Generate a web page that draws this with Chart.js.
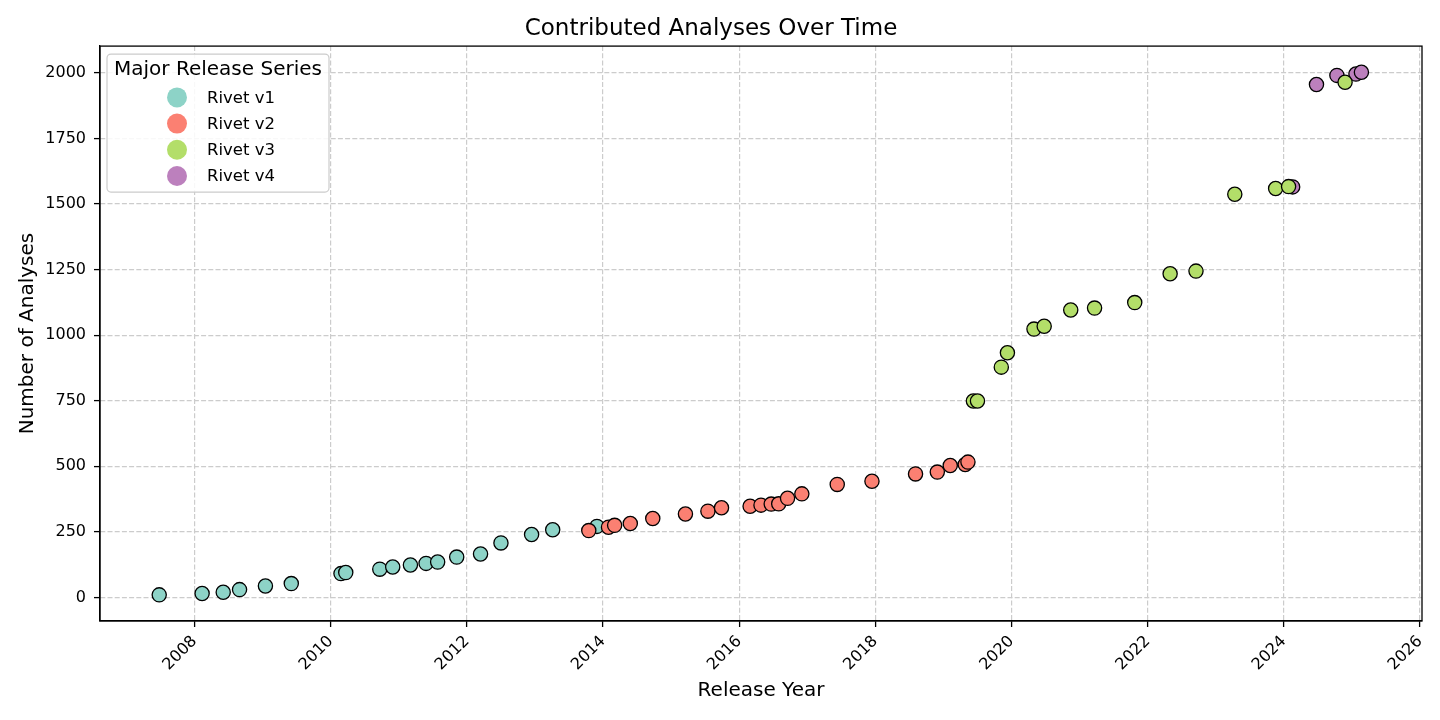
<!DOCTYPE html>
<html>
<head>
<meta charset="utf-8">
<title>Contributed Analyses Over Time</title>
<script src="https://cdn.jsdelivr.net/npm/chart.js@4.4.0/dist/chart.umd.min.js"></script>
<style>
    html, body { margin: 0; padding: 0; background: #fff; }
    #wrap { width: 1440px; height: 720px; }
</style>
</head>
<body>
<div id="wrap"><canvas id="analysesChart" width="1440" height="720"></canvas></div>
<script>
// ===============================
// DATA
// ===============================

const seriesNames = ["Rivet v1", "Rivet v2", "Rivet v3", "Rivet v4"];
const seriesColors = ["#8dd3c7", "#fb8072", "#b3de69", "#bc80bd"];

const v1Years  = [2007.48, 2008.11, 2008.42, 2008.66, 2009.04, 2009.42, 2010.15, 2010.22, 2010.72, 2010.91,
                  2011.17, 2011.40, 2011.57, 2011.85, 2012.20, 2012.50, 2012.95, 2013.26, 2013.91];
const v1Counts = [10, 15, 20, 30, 44, 53, 91, 95, 108, 116,
                  124, 130, 135, 154, 166, 208, 240, 258, 271];

const v2Years  = [2013.79, 2014.08, 2014.17, 2014.40, 2014.73, 2015.21, 2015.54, 2015.74, 2016.16, 2016.32,
                  2016.47, 2016.58, 2016.71, 2016.92, 2017.44, 2017.95, 2018.59, 2018.91, 2019.10, 2019.32, 2019.36];
const v2Counts = [255, 268, 275, 282, 301, 318, 329, 342, 348, 352,
                  356, 357, 378, 395, 431, 443, 471, 478, 503, 507, 516];

const v3Years  = [2019.44, 2019.50, 2019.85, 2019.94, 2020.33, 2020.48, 2020.87, 2021.22, 2021.81, 2022.33,
                  2022.71, 2023.28, 2023.88, 2024.07, 2024.90];
const v3Counts = [749, 749, 878, 933, 1023, 1034, 1096, 1103, 1124, 1234,
                  1244, 1537, 1559, 1566, 1964];

const v4Years  = [2024.13, 2024.48, 2024.78, 2025.06, 2025.14];
const v4Counts = [1565, 1955, 1990, 1995, 2002];

const xTicks = [2008, 2010, 2012, 2014, 2016, 2018, 2020, 2022, 2024, 2026];
const yTicks = [0, 250, 500, 750, 1000, 1250, 1500, 1750, 2000];

const legendTitle = "Major Release Series";

// ===============================
// HELPERS
// ===============================

function toPoints(xs, ys) {
    return xs.map((x, i) => ({ x: x, y: ys[i] }));
}

// draw order: v3 on top, then v4, v2, v1 (lower order = drawn later)
const drawOrder = [3, 2, 0, 1];

function makeDataset(i, xs, ys) {
    return {
        label: seriesNames[i],
        data: toPoints(xs, ys),
        backgroundColor: seriesColors[i],
        borderColor: "#000000",
        borderWidth: 1.3,
        pointRadius: 7.1,
        pointHoverRadius: 7.1,
        order: drawOrder[i]
    };
}

Chart.defaults.font.family = "'DejaVu Sans', sans-serif";
Chart.defaults.color = "#000000";

// frame round the plot (top + right spines)
const frame = {
    id: "frame",
    afterDatasetsDraw(chart) {
        const a = chart.chartArea;
        const ctx = chart.ctx;
        ctx.save();
        ctx.strokeStyle = "#000";
        ctx.lineWidth = 1.3;
        ctx.strokeRect(a.left, a.top, a.right - a.left, a.bottom - a.top);
        ctx.restore();
    }
};

// matplotlib-like legend in the upper-left of the plot
const legendBox = {
    id: "legendBox",
    afterDraw(chart) {
        const ctx = chart.ctx;
        const a = chart.chartArea;
        const x = a.left + 7, y = a.top + 8, w = 222, h = 138;
        ctx.save();
        ctx.fillStyle = "rgba(255,255,255,0.85)";
        ctx.strokeStyle = "#cccccc";
        ctx.lineWidth = 1.2;
        ctx.beginPath();
        ctx.roundRect(x, y, w, h, 4);
        ctx.fill();
        ctx.stroke();

        ctx.fillStyle = "#000";
        ctx.textBaseline = "middle";
        ctx.textAlign = "center";
        ctx.font = "20px 'DejaVu Sans'";
        ctx.fillText(legendTitle, x + w / 2, y + 16);

        ctx.textAlign = "left";
        ctx.font = "16.5px 'DejaVu Sans'";
        seriesNames.forEach((name, i) => {
            const cy = y + 43.3 + i * 26.2;
            ctx.fillStyle = seriesColors[i];
            ctx.beginPath();
            ctx.arc(x + 70, cy, 10, 0, Math.PI * 2);
            ctx.fill();
            ctx.fillStyle = "#000";
            ctx.fillText(name, x + 100, cy + 1);
        });
        ctx.restore();
    }
};

const gridCommon = {
    color: "#cccccc",
    lineWidth: 1.2,
    tickColor: "#000000",
    tickLength: 6,
    tickWidth: 1.3,
    tickBorderDash: []
};

const borderCommon = {
    display: true,
    color: "#000000",
    width: 1.3,
    dash: [5, 2.2]
};

new Chart(document.getElementById("analysesChart"), {
    type: "scatter",
    data: {
        datasets: [
            makeDataset(0, v1Years, v1Counts),
            makeDataset(1, v2Years, v2Counts),
            makeDataset(2, v3Years, v3Counts),
            makeDataset(3, v4Years, v4Counts)
        ]
    },
    options: {
        responsive: false,
        animation: false,
        layout: { padding: { left: 0, right: 18, top: 0, bottom: 0 } },
        plugins: {
            legend: { display: false },
            tooltip: { enabled: false },
            title: {
                display: true,
                text: "Contributed Analyses Over Time",
                font: { size: 23, weight: "normal" },
                color: "#000",
                padding: { top: 15, bottom: 3.5 }
            }
        },
        scales: {
            x: {
                type: "linear",
                min: 2006.61,
                max: 2026.03,
                afterBuildTicks: s => { s.ticks = xTicks.map(v => ({ value: v })); },
                afterFit: s => { s.height = 99; },
                ticks: {
                    autoSkip: false,
                    minRotation: 45,
                    maxRotation: 45,
                    padding: 5,
                    font: { size: 16 },
                    color: "#000",
                    callback: v => String(v)
                },
                grid: gridCommon,
                border: borderCommon,
                title: {
                    display: true,
                    text: "Release Year",
                    font: { size: 20 },
                    color: "#000",
                    padding: { top: 0, bottom: 17 }
                }
            },
            y: {
                type: "linear",
                min: -89.6,
                max: 2101.6,
                afterBuildTicks: s => { s.ticks = yTicks.map(v => ({ value: v })); },
                afterFit: s => { s.width = 100; },
                ticks: {
                    padding: 8,
                    font: { size: 16 },
                    color: "#000",
                    callback: v => String(v)
                },
                grid: gridCommon,
                border: borderCommon,
                title: {
                    display: true,
                    text: "Number of Analyses",
                    font: { size: 20 },
                    color: "#000",
                    padding: { top: 16, bottom: 0 }
                }
            }
        }
    },
    plugins: [frame, legendBox]
});
</script>
</body>
</html>
